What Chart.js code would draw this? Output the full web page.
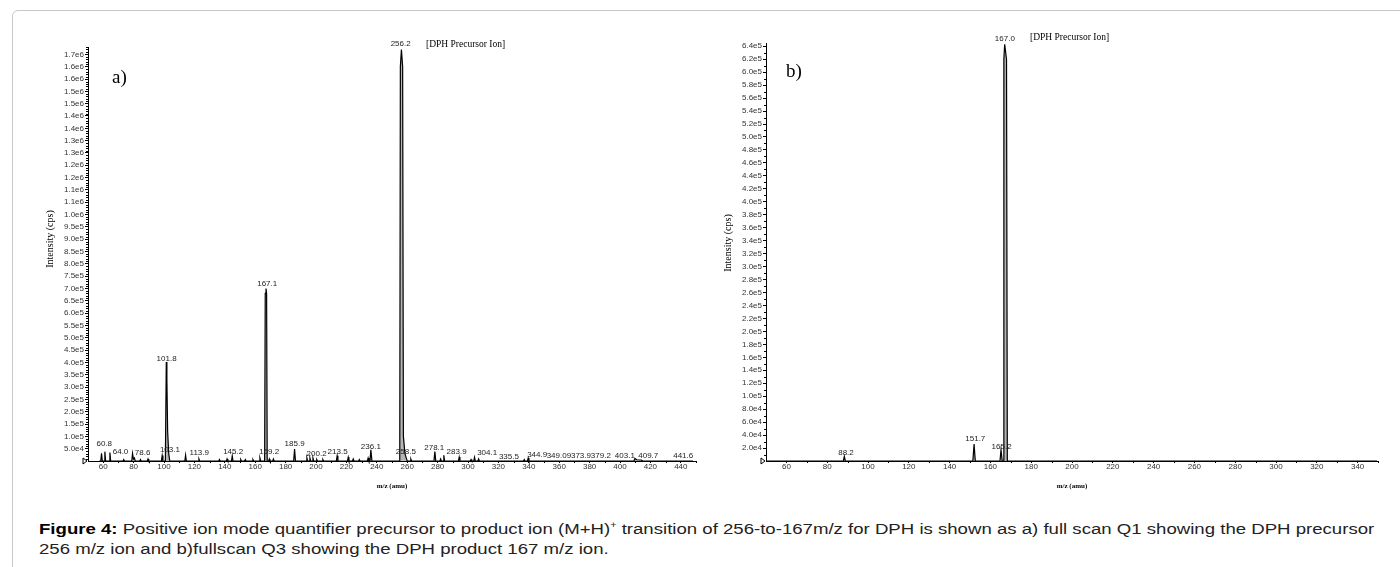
<!DOCTYPE html>
<html>
<head>
<meta charset="utf-8">
<script src="https://cdn.jsdelivr.net/npm/chart.js@4.4.1/dist/chart.umd.min.js"></script>
<style>
  body { margin: 0; width: 1400px; height: 567px; overflow: hidden; background: #fff; position: relative; }
  .card { position: absolute; left: 12px; top: 10px; width: 1420px; height: 600px; border: 1px solid #c8c8c8; border-radius: 6px; }
  canvas { position: absolute; top: 0; }
  #specA { left: 0; }
  #specB { left: 700px; }
  .note { position: absolute; font-family: "Liberation Serif", serif; color: #000; white-space: nowrap; }
  .panel { font-size: 19px; }
  .ion { font-size: 9.5px; }
  .caption { position: absolute; left: 39px; top: 519px; font-family: "Liberation Sans", Arial, sans-serif; font-size: 15.5px; line-height: 19.5px; color: #222; white-space: nowrap; transform: scaleX(1.2); transform-origin: 0 0; }
  .caption b { color: #000; }
  .caption sup { font-size: 9px; line-height: 0; }
</style>
</head>
<body>
<div class="card"></div>
<canvas id="specA" width="700" height="500"></canvas>
<canvas id="specB" width="700" height="500"></canvas>
<div class="note panel" style="left:112px; top:66px;">a)</div>
<div class="note ion" style="left:426px; top:39px;">[DPH Precursor Ion]</div>
<div class="note panel" style="left:786px; top:60px;">b)</div>
<div class="note ion" style="left:1030px; top:32px;">[DPH Precursor Ion]</div>
<div class="caption"><b>Figure 4:</b> Positive ion mode quantifier precursor to product ion (M+H)<sup>+</sup> transition of 256-to-167m/z for DPH is shown as a) full scan Q1 showing the DPH precursor<br>256 m/z ion and b)fullscan Q3 showing the DPH product 167 m/z ion.</div>
<script>
// a) full scan Q1 - profile points
const mzA = [57.5, 58.4, 58.9, 59.4, 60.6, 61.1, 61.6, 63.9, 64.4, 64.9, 73.0, 73.5, 74.0,
  78.8, 79.3, 79.9, 80.5, 81.1, 84.0, 84.5, 85.0, 89.0, 89.5, 90.0, 98.3, 98.8, 99.3,
  100.9, 101.5, 101.9, 102.4, 103.1, 103.8, 113.7, 114.2, 114.7, 122.5, 123.0, 123.5,
  136.0, 136.5, 137.0, 141.0, 141.5, 142.0, 144.4, 144.9, 145.4, 150.0, 150.5, 151.0,
  153.0, 153.5, 154.0, 158.0, 158.5, 159.0, 162.6, 163.1, 163.6, 166.2, 166.6, 167.1,
  167.5, 167.9, 168.9, 169.3, 169.7, 171.5, 172.0, 172.5, 185.3, 185.9, 186.5, 193.5,
  194.0, 194.5, 195.5, 196.0, 196.5, 197.5, 198.0, 198.5, 200.0, 200.5, 201.0, 204.0,
  204.5, 205.0, 213.4, 213.9, 214.4, 220.7, 221.2, 221.7, 224.0, 224.5, 225.0, 228.0,
  228.5, 229.0, 233.8, 234.3, 234.8, 235.5, 236.1, 236.8, 255.1, 255.5, 256.2, 257.0,
  257.5, 258.5, 260.0, 261.9, 262.4, 262.9, 277.6, 278.2, 278.8, 281.5, 282.0, 282.5,
  283.6, 284.1, 284.6, 293.7, 294.2, 294.7, 301.5, 302.0, 302.5, 303.8, 304.3, 304.8,
  306.5, 307.0, 307.5, 336.5, 337.0, 337.5, 339.1, 339.6, 340.1, 409.2, 409.8, 411.0,
  414.0, 415.0, 448.0];
const intA = [0, 0, 31000, 0, 0, 38000, 0, 0, 34000, 0, 0, 6000, 0,
  0, 31000, 8000, 12000, 0, 0, 6000, 0, 0, 8000, 0, 0, 22000, 0,
  0, 402000, 330000, 120000, 30000, 0, 0, 24000, 0, 0, 8000, 0,
  0, 6000, 0, 0, 8000, 0, 0, 21000, 0, 0, 6000, 0,
  0, 6000, 0, 0, 6000, 0, 0, 12000, 0, 0, 680000, 700000,
  680000, 0, 0, 8000, 0, 0, 8000, 0, 0, 49000, 0, 0,
  12000, 0, 0, 12000, 0, 0, 12000, 0, 0, 6000, 0, 0,
  6000, 0, 0, 21000, 0, 0, 15000, 0, 0, 8000, 0, 0,
  6000, 0, 0, 12000, 0, 0, 45000, 0, 0, 1600000, 1670000, 1600000,
  100000, 30000, 0, 0, 8000, 0, 0, 38000, 0, 0, 8000, 0,
  0, 23000, 0, 0, 16000, 0, 0, 6000, 0, 0, 15000, 0,
  0, 8000, 0, 0, 6000, 0, 0, 12000, 0, 0, 10000, 5000,
  4000, 0, 0];
const peakTextA = ['60.8', '64.0', '78.6', '101.8', '103.1', '113.9', '145.2', '167.1', '169.2', '185.9',
  '200.2', '213.5', '236.1', '256.2', '258.5', '278.1', '283.9', '304.1', '335.5', '344.9',
  '349.09', '373.9', '379.2', '403.1', '409.7', '441.6'];
const peakAtA = [60.7, 71.4, 85.9, 101.7, 103.9, 123.2, 145.5, 167.9, 169.2, 185.9,
  200.4, 214.2, 236.1, 255.7, 259.1, 277.8, 292.5, 312.6, 326.9, 345.5,
  359.8, 374.3, 387.4, 403.2, 418.6, 441.6];
const peakHtA = [68000, 38000, 35000, 415000, 47000, 35000, 39000, 720000, 39000, 68000,
  30000, 38000, 58000, 1695000, 38000, 52000, 38000, 34000, 17000, 24000,
  20000, 20000, 20000, 20000, 20000, 20000];
const yTickTextA = ['5.0e4', '1.0e5', '1.5e5', '2.0e5', '2.5e5', '3.0e5', '3.5e5', '4.0e5', '4.5e5', '5.0e5',
  '5.5e5', '6.0e5', '6.5e5', '7.0e5', '7.5e5', '8.0e5', '8.5e5', '9.0e5', '9.5e5', '1.0e6',
  '1.1e6', '1.1e6', '1.2e6', '1.2e6', '1.3e6', '1.3e6', '1.4e6', '1.4e6', '1.5e6', '1.5e6',
  '1.6e6', '1.6e6', '1.7e6'];
const xTicksA = [60, 80, 100, 120, 140, 160, 180, 200, 220, 240, 260, 280, 300, 320, 340, 360, 380, 400, 420, 440];

// b) full scan Q3
const mzB = [50.5, 87.9, 88.4, 88.9, 151.4, 152.0, 152.6, 164.7, 165.2, 165.8, 166.3, 166.6, 167.0, 167.9, 168.3, 349.5];
const intB = [0, 0, 7000, 0, 0, 26000, 0, 0, 17000, 0, 0, 620000, 643000, 620000, 0, 0];
const peakTextB = ['88.2', '151.7', '165.2', '167.0'];
const peakAtB = [89.2, 152.6, 165.5, 167.1];
const peakHtB = [12300, 34000, 22500, 652000];
const yTickTextB = ['2.0e4', '4.0e4', '6.0e4', '8.0e4', '1.0e5', '1.2e5', '1.4e5', '1.6e5', '1.8e5', '2.0e5',
  '2.2e5', '2.4e5', '2.6e5', '2.8e5', '3.0e5', '3.2e5', '3.4e5', '3.6e5', '3.8e5', '4.0e5',
  '4.2e5', '4.4e5', '4.6e5', '4.8e5', '5.0e5', '5.2e5', '5.4e5', '5.6e5', '5.8e5', '6.0e5',
  '6.2e5', '6.4e5'];
const xTicksB = [60, 80, 100, 120, 140, 160, 180, 200, 220, 240, 260, 280, 300, 320, 340];

const sans = '"Liberation Sans", Arial, sans-serif';
const serif = '"Liberation Serif", "Times New Roman", serif';

// minor ticks, origin marker, y title and peak labels
const specMarks = {
  id: 'specMarks',
  afterDraw(chart, args, opts) {
    const { ctx } = chart;
    const x = chart.scales.x, y = chart.scales.y;
    ctx.save();
    ctx.strokeStyle = '#000';
    ctx.lineWidth = 1;
    ctx.beginPath();
    opts.minorX.forEach(v => {
      const p = Math.round(x.getPixelForValue(v)) + 0.5;
      ctx.moveTo(p, y.bottom); ctx.lineTo(p, y.bottom + 2);
    });
    opts.minorY.forEach(v => {
      const p = Math.round(y.getPixelForValue(v)) + 0.5;
      ctx.moveTo(x.left - 2, p); ctx.lineTo(x.left, p);
    });
    ctx.stroke();
    // little triangle at the origin
    const y0 = y.getPixelForValue(0);
    ctx.beginPath();
    ctx.moveTo(x.left - 5, y0 - 3); ctx.lineTo(x.left - 1, y0); ctx.lineTo(x.left - 5, y0 + 3); ctx.closePath();
    ctx.stroke();
    // axis title, sits a bit above the middle like the original
    ctx.save();
    ctx.translate(opts.titleX, opts.titleY);
    ctx.rotate(-Math.PI / 2);
    ctx.fillStyle = '#000';
    ctx.font = '10px ' + serif;
    ctx.textAlign = 'center';
    ctx.textBaseline = 'middle';
    ctx.fillText('Intensity (cps)', 0, 0);
    ctx.restore();
    ctx.fillStyle = '#222';
    ctx.font = '8px ' + sans;
    ctx.textAlign = 'center';
    ctx.textBaseline = 'middle';
    opts.texts.forEach((t, i) => {
      ctx.fillText(t, x.getPixelForValue(opts.at[i]), y.getPixelForValue(opts.ht[i]));
    });
    ctx.restore();
  }
};

function range(a, b, step) {
  const out = [];
  for (let v = a; v <= b + 1e-6; v += step) out.push(v);
  return out;
}

function makeSpectrum(id, mz, inten, cfg) {
  const yVals = cfg.yText.map((t, i) => (i + 1) * cfg.yStep);
  new Chart(document.getElementById(id), {
    type: 'line',
    data: {
      datasets: [{
        data: mz.map((m, i) => ({ x: m, y: inten[i] })),
        borderColor: '#000',
        borderWidth: 1.2,
        backgroundColor: 'rgba(120,120,120,0.55)',
        fill: 'origin',
        pointRadius: 0,
        tension: 0,
        clip: 3
      }]
    },
    options: {
      responsive: false,
      animation: false,
      devicePixelRatio: 1,
      layout: { padding: { left: cfg.left - 48, top: cfg.top, right: 700 - cfg.right, bottom: 9 } },
      plugins: {
        legend: { display: false },
        tooltip: { enabled: false },
        specMarks: {
          texts: cfg.texts, at: cfg.at, ht: cfg.ht,
          titleX: cfg.titleX, titleY: cfg.titleY,
          minorX: range(70, cfg.xMax, 20),
          minorY: range(cfg.minorStep, cfg.yMax, cfg.minorStep).filter(v => Math.abs(v / cfg.yStep - Math.round(v / cfg.yStep)) > 1e-6)
        }
      },
      scales: {
        x: {
          type: 'linear',
          min: 50, max: cfg.xMax,
          afterFit: s => { s.height = 30; },
          afterBuildTicks: s => { s.ticks = cfg.xTicks.map(v => ({ value: v })); },
          border: { display: true, color: '#000', width: 1 },
          grid: { display: true, drawOnChartArea: false, drawTicks: true, tickLength: 2, tickColor: '#000' },
          ticks: { maxRotation: 0, autoSkip: false, padding: 0, color: '#333', font: { size: 8, family: sans, lineHeight: 1 } },
          title: { display: true, text: 'm/z (amu)', color: '#000', font: { size: 7, weight: 'bold', family: serif }, padding: { top: 0, bottom: 1 } }
        },
        y: {
          min: 0, max: cfg.yMax,
          afterFit: s => { s.width = 48; },
          afterBuildTicks: s => { s.ticks = yVals.map(v => ({ value: v })); },
          border: { display: true, color: '#000', width: 1 },
          grid: { display: true, drawOnChartArea: false, drawTicks: true, tickLength: 3, tickColor: '#000' },
          ticks: {
            autoSkip: false, padding: 1, color: '#333', font: { size: 8, family: sans },
            callback: (v, i) => cfg.yText[i]
          },
          title: { display: false }
        }
      }
    },
    plugins: [specMarks]
  });
}

makeSpectrum('specA', mzA, intA, {
  left: 88, right: 696, top: 47, xMax: 450, xTicks: xTicksA,
  yMax: 1680000, yStep: 50000, minorStep: 10000, yText: yTickTextA, titleX: 50, titleY: 239,
  texts: peakTextA, at: peakAtA, ht: peakHtA
});
makeSpectrum('specB', mzB, intB, {
  left: 66, right: 678, top: 43, xMax: 350, xTicks: xTicksB,
  yMax: 645000, yStep: 20000, minorStep: 10000, yText: yTickTextB, titleX: 28, titleY: 243,
  texts: peakTextB, at: peakAtB, ht: peakHtB
});
</script>
</body>
</html>
